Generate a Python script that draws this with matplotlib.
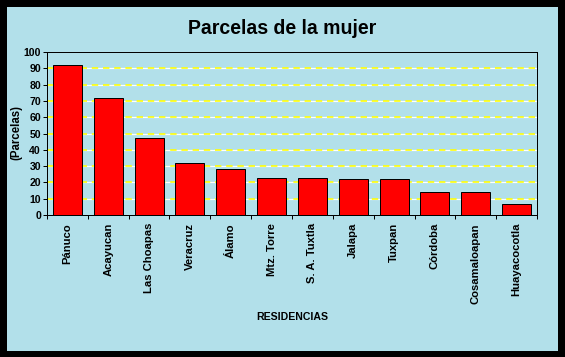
import matplotlib
matplotlib.use("Agg")
import matplotlib.pyplot as plt
from matplotlib.patches import Rectangle
import numpy as np

categories = ["Pánuco", "Acayucan", "Las Choapas", "Veracruz", "Álamo", "Mtz. Torre",
              "S. A. Tuxtla", "Jalapa", "Tuxpan", "Córdoba", "Cosamaloapan", "Huayacocotla"]
values = [92, 72, 47, 32, 28, 23, 23, 22, 22, 14, 14, 7]
yticks = [0, 10, 20, 30, 40, 50, 60, 70, 80, 90, 100]

W, H = 565, 357
DPI = 72
fig = plt.figure(figsize=(W / DPI, H / DPI), dpi=DPI)
bg = "#b2e0ea"
fig.patch.set_facecolor(bg)
plt.rcParams['font.family'] = ['Liberation Sans', 'DejaVu Sans']

ax = fig.add_axes([47 / W, 1 - 215 / H, (537 - 47) / W, (215 - 52) / H])
ax.set_facecolor(bg)

x = np.arange(len(categories))
for y in yticks[1:-1]:
    ax.axhline(y, color="white", lw=1.2, zorder=1)
    ax.axhline(y, color="#ffff00", lw=1.6, ls=(0, (4, 3)), zorder=1.5)
ax.bar(x, values, width=0.71, color="#ff0000", edgecolor="black", linewidth=1.0, zorder=3)

ax.set_xlim(-0.5, len(categories) - 0.5)
ax.set_ylim(0, 100)
ax.set_yticks(yticks)
ax.set_yticklabels([str(v) for v in yticks], fontsize=10.5, fontweight="bold")
ax.set_xticks(x)
ax.set_xticklabels(categories, rotation=90, fontsize=11.3, fontweight="bold", va="top")
ax.tick_params(axis="x", length=0, pad=8)
ax.set_xticks(np.arange(-0.5, len(categories), 1.0), minor=True)
ax.tick_params(axis="x", which="minor", length=4, width=1, direction="out")
ax.tick_params(axis="y", length=4, width=1, direction="out", pad=2)
for s in ax.spines.values():
    s.set_linewidth(1.0)
    s.set_color("black")

fig.text(16 / W, 1 - 132 / H, "(Parcelas)", rotation=90, ha="center", va="center",
         fontsize=11.5, fontweight="bold")
fig.text(292 / W, 1 - 317 / H, "RESIDENCIAS", ha="center", va="center",
         fontsize=10.5, fontweight="bold")
fig.text(0.5, 1 - 29 / H, "Parcelas de la mujer", ha="center", va="center",
         fontsize=19.5, fontweight="bold")

# black frame
fig.patches.append(Rectangle((0, 0), 1, 6 / H, transform=fig.transFigure, color="black", zorder=10))
fig.patches.append(Rectangle((0, 1 - 6 / H), 1, 6 / H, transform=fig.transFigure, color="black", zorder=10))
fig.patches.append(Rectangle((0, 0), 6 / W, 1, transform=fig.transFigure, color="black", zorder=10))
fig.patches.append(Rectangle((1 - 7 / W, 0), 7 / W, 1, transform=fig.transFigure, color="black", zorder=10))

fig.savefig("out.png", dpi=DPI, facecolor=fig.get_facecolor())
